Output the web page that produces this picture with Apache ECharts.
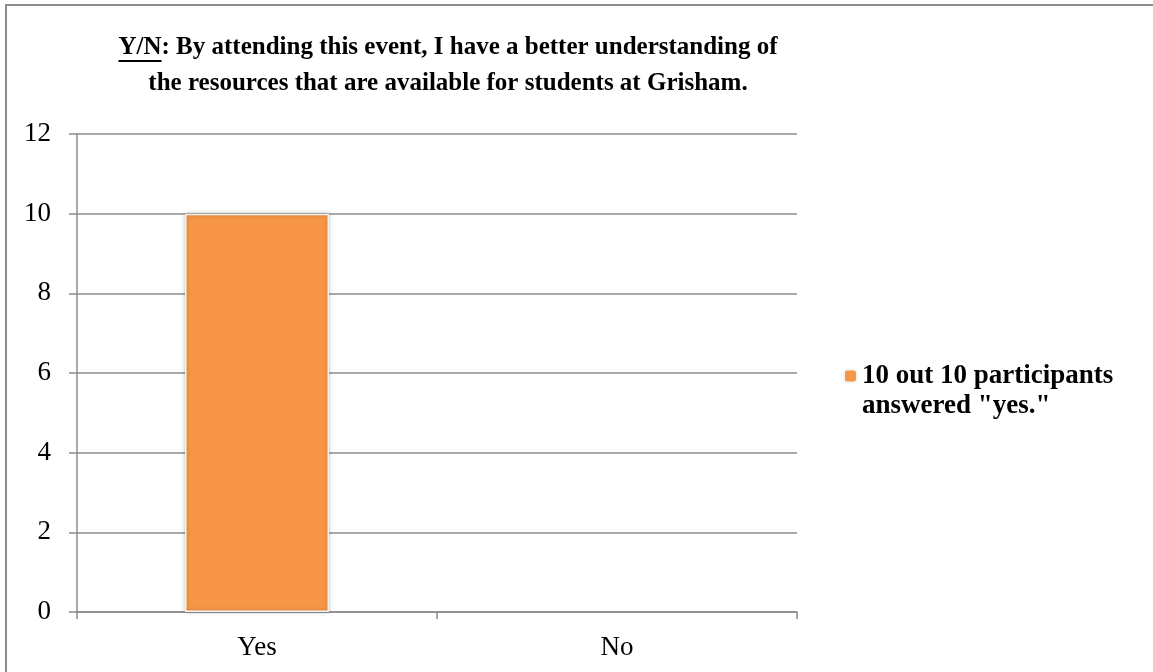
<!DOCTYPE html>
<html>
<head>
<meta charset="utf-8">
<script src="https://cdn.jsdelivr.net/npm/echarts@6/dist/echarts.min.js"></script>
<style>
  html, body { margin: 0; padding: 0; background: #fff; }
  #chart { width: 1153px; height: 672px; }
</style>
</head>
<body>
<div id="chart"></div>
<script>
var categories = ['Yes', 'No'];
var answers = [10, null];
var seriesName = '10 out 10 participants\nanswered "yes."';
var yTicks = { min: 0, max: 12, interval: 2 };
var titleLines = [
  'Y/N: By attending this event, I have a better understanding of',
  'the resources that are available for students at Grisham.'
];
var underlined = 'Y/N';

var serif = "'Liberation Serif', serif";
var titleSize = 25;
var titleCenter = 448;
var titleTop = 30;
var titleLineHeight = 36;

// width of the first title line, to place the underline below "Y/N"
var ctx = document.createElement('canvas').getContext('2d');
ctx.font = 'bold ' + titleSize + 'px ' + serif;
var lineStart = titleCenter - ctx.measureText(titleLines[0]).width / 2;
var ulWidth = ctx.measureText(underlined).width;

var chart = echarts.init(document.getElementById('chart'));
var chartOptions = {
  backgroundColor: '#fff',
  title: {
    left: titleCenter,
    top: titleTop,
    padding: 0,
    textAlign: 'center',
    text: titleLines.join('\n'),
    textStyle: {
      fontFamily: serif,
      fontWeight: 'bold',
      fontSize: titleSize,
      lineHeight: titleLineHeight,
      color: '#000'
    }
  },

  legend: {
    orient: 'vertical',
    left: 838,
    top: 326,
    itemWidth: 13,
    itemHeight: 13,
    data: [seriesName],
    // empty first line keeps the marker beside the first text line
    formatter: function (name) { return '\n' + name; },
    textStyle: {
      fontFamily: serif,
      fontWeight: 'bold',
      fontSize: 27,
      lineHeight: 30,
      color: '#000'
    }
  },

  grid: {
    left: 77,
    right: 356,
    top: 134,
    bottom: 60
  },

  xAxis: {
    type: 'category',
    data: categories,
    axisLine: { lineStyle: { color: '#8c8c8c', width: 1.5 } },
    axisTick: { show: true, length: 7, lineStyle: { color: '#8c8c8c', width: 1.5 } },
    axisLabel: {
      margin: 22,
      fontFamily: serif,
      fontSize: 27,
      color: '#000'
    }
  },

  yAxis: {
    type: 'value',
    min: yTicks.min,
    max: yTicks.max,
    interval: yTicks.interval,
    axisLine: { show: true, lineStyle: { color: '#8c8c8c', width: 1.5 } },
    axisTick: { show: true, length: 8, lineStyle: { color: '#8c8c8c', width: 1.5 } },
    splitLine: { lineStyle: { color: '#8c8c8c', width: 1.5 } },
    axisLabel: {
      margin: 26,
      fontFamily: serif,
      fontSize: 27,
      color: '#000'
    }
  },

  graphic: [
    {
      type: 'rect',
      shape: { x: 6, y: 5, width: 1200, height: 720 },
      style: { fill: 'none', stroke: '#8c8c8c', lineWidth: 2 },
      silent: true
    },
    {
      type: 'line',
      shape: { x1: lineStart, y1: 61, x2: lineStart + ulWidth, y2: 61 },
      style: { stroke: '#000', lineWidth: 2 },
      silent: true
    }
  ],

  series: [
    {
      name: seriesName,
      type: 'bar',
      barWidth: '40%',
      data: answers,
      itemStyle: {
        color: '#F79646',
        borderColor: '#f4f4f4',
        borderWidth: 1.5,
        shadowColor: 'rgba(0,0,0,0.25)',
        shadowBlur: 4
      }
    }
  ]
};
chart.setOption(chartOptions);
</script>
</body>
</html>
